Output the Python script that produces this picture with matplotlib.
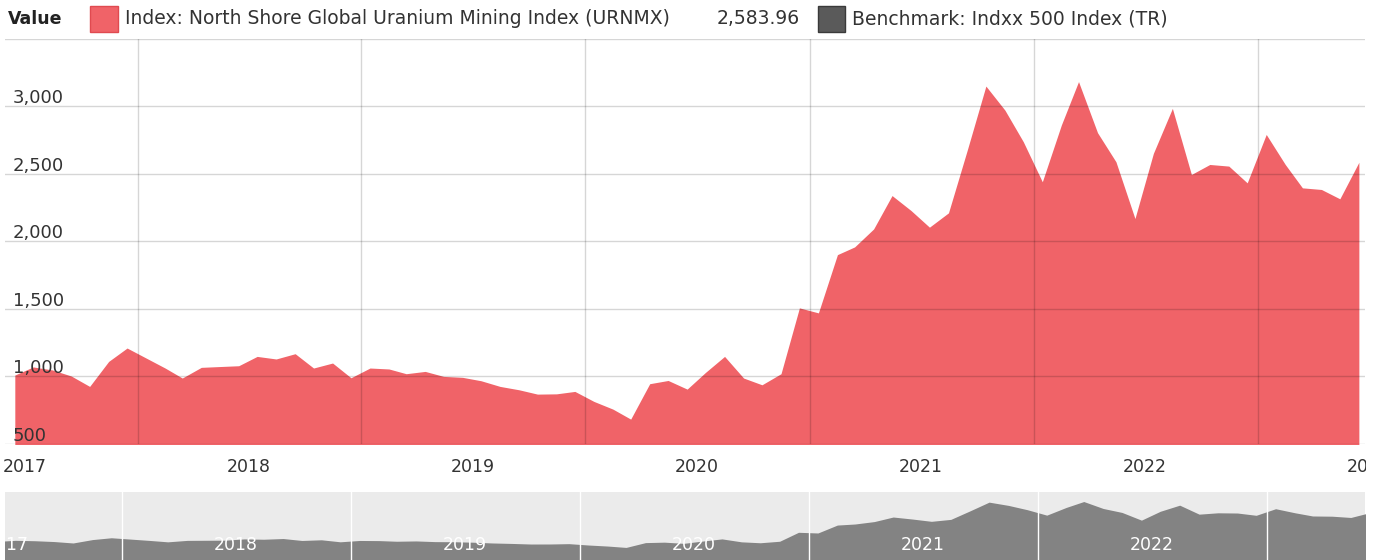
import matplotlib
matplotlib.use("Agg")
import matplotlib.pyplot as plt
import matplotlib.transforms as mtransforms
import matplotlib.patches as mpatches
import pandas as pd

# ---------------- data ----------------
months = pd.date_range("2017-06-01", periods=73, freq="MS") + pd.Timedelta(days=14)
urnmx = [1010, 1070, 1048, 1003, 926, 1111, 1210, 1136, 1062, 988,
         1067, 1073, 1079, 1148, 1129, 1168, 1062, 1099, 990, 1062,
         1055, 1020, 1037, 1000, 993, 968, 926, 901, 869, 871,
         889, 815, 758, 684, 946, 970, 906, 1030, 1148, 988,
         938, 1020, 1507, 1470, 1901, 1958, 2091, 2338, 2227, 2104,
         2210, 2680, 3148, 2970, 2736, 2440, 2860, 3181, 2803, 2588,
         2168, 2650, 2983, 2494, 2568, 2556, 2432, 2790, 2568, 2395,
         2383, 2314, 2584]
y_ticks = [500, 1000, 1500, 2000, 2500, 3000]
y_grid = [500, 1000, 1500, 2000, 2500, 3000, 3500]
grid_years = [2018, 2019, 2020, 2021, 2022, 2023]
year_labels = [2017, 2018, 2019, 2020, 2021, 2022, 2023]
nav_labels = [2017, 2018, 2019, 2020, 2021, 2022]
legend_title = "Value"
legend_index = "Index: North Shore Global Uranium Mining Index (URNMX)"
last_value_text = "2,583.96"
legend_bench = "Benchmark: Indxx 500 Index (TR)"

# ---------------- style ----------------
W, H = 1383, 560
RED = "#f06368"
TXT = "#333333"
GRID = (0, 0, 0, 0.16)
FS_X = 12.5
FS_Y = 13
FS_LEG = 13.5

fig = plt.figure(figsize=(W / 100, H / 100), dpi=100)
fig.patch.set_facecolor("white")


def frac(x0, y0, x1, y1):
    return [x0 / W, 1 - y1 / H, (x1 - x0) / W, (y1 - y0) / H]


PX = mtransforms.Affine2D().scale(1 / W, -1 / H).translate(0, 1) + fig.transFigure

# ---------------- main chart ----------------
ax = fig.add_axes(frac(5, 38.5, 1365, 444))
ax.fill_between(months, urnmx, 0, color=RED, lw=0, zorder=2)
ax.set_ylim(500, 3500)
ax.set_xlim(months[0] - pd.Timedelta(days=16), months[-1] + pd.Timedelta(days=10))
for v in y_grid:
    ax.axhline(v, color=GRID, lw=1, zorder=3)
for yr in grid_years:
    ax.axvline(pd.Timestamp(f"{yr}-01-01"), color=GRID, lw=1, zorder=3)
for s in ax.spines.values():
    s.set_visible(False)
ax.set_xticks([])
ax.set_yticks([])

ylab_tr = mtransforms.offset_copy(ax.get_yaxis_transform(), fig=fig, x=0, y=3, units="dots")
for v in y_ticks:
    ax.text(8 / 1360, v, f"{v:,}", transform=ylab_tr, ha="left", va="baseline",
            fontsize=FS_Y, color=TXT, zorder=5)

xlab_clip = mtransforms.TransformedBbox(
    mtransforms.Bbox.from_extents(0, 0, 1366 / W, 1), fig.transFigure)
for yr in year_labels:
    t = ax.text(pd.Timestamp(f"{yr}-07-01"), -23 / 405.5, str(yr), transform=ax.get_xaxis_transform(),
                ha="center", va="center", fontsize=FS_X, color=TXT, clip_on=True)
    t.set_clip_box(xlab_clip)

# ---------------- navigator ----------------
nav = fig.add_axes(frac(5, 492, 1365, 560))
nav.set_facecolor("#ebebeb")
nav.fill_between(months, urnmx, 0, color="#838383", lw=0, zorder=2)
nav.set_ylim(0, 3700)
jan18 = pd.Timestamp("2018-01-01")
nav.set_xlim(jan18 - pd.Timedelta(days=117 / 229 * 365.25), jan18 + pd.Timedelta(days=1243 / 229 * 365.25))
for yr in grid_years:
    nav.axvline(pd.Timestamp(f"{yr}-01-01"), color="white", lw=1, zorder=3)
for s in nav.spines.values():
    s.set_visible(False)
nav.set_xticks([])
nav.set_yticks([])
for yr in nav_labels:
    nav.text(pd.Timestamp(f"{yr}-07-01"), 0.22, str(yr), transform=nav.get_xaxis_transform(),
             ha="center", va="center", fontsize=FS_X, color="white", zorder=4, clip_on=True)

# ---------------- legend row ----------------
fig.text(8, 19, legend_title, transform=PX, ha="left", va="center", fontsize=12.5,
         fontweight="bold", color="#222222")
fig.patches.append(mpatches.Rectangle((90, 6), 28, 26, transform=PX, facecolor=RED,
                                      edgecolor="#e04a50", lw=1))
fig.text(125, 19, legend_index, transform=PX, ha="left", va="center", fontsize=FS_LEG, color=TXT)
fig.text(800, 19, last_value_text, transform=PX, ha="right", va="center", fontsize=FS_LEG, color=TXT)
fig.patches.append(mpatches.Rectangle((818, 6), 27, 26, transform=PX, facecolor="#5a5a5a",
                                      edgecolor="#3a3a3a", lw=1))
fig.text(852, 19, legend_bench, transform=PX, ha="left", va="center", fontsize=FS_LEG, color=TXT)

fig.savefig("out.png", dpi=100, facecolor="white")
